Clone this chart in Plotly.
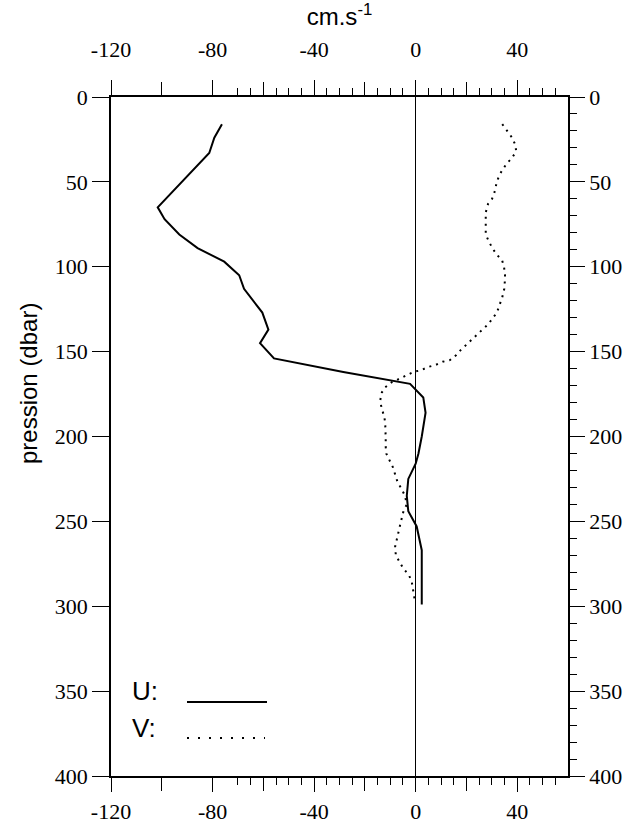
import plotly.graph_objects as go

# U component (solid), cm/s vs pressure (dbar)
u_pres = [16, 24, 33, 65, 72, 81, 89, 97, 105, 113, 127, 137, 145, 154, 162, 169, 177, 186, 200, 210, 216, 225, 235, 244, 253, 267, 286, 299]
u_vel = [-76.3, -79.3, -81.3, -101.6, -98.9, -93.1, -85.9, -75.4, -69.5, -67.6, -60.4, -58.0, -61.3, -55.8, -28.5, -2.2, 3.0, 3.9, 2.4, 1.1, 0.0, -2.9, -3.5, -2.9, 0.4, 2.4, 2.4, 2.4]

# V component (dotted)
v_pres = [16, 20, 24, 28, 32, 36, 39, 43, 47, 51, 55, 60, 63, 68, 72, 76, 81, 85, 89, 93, 96, 100, 105, 109, 113, 118, 122, 127, 130, 134, 137, 140, 143, 146, 149, 152, 155, 156, 158, 159, 161, 162, 164, 166, 168, 171, 174, 179, 184, 188, 192, 197, 201, 206, 210, 218, 223, 227, 231, 235, 240, 244, 252, 261, 265, 270, 274, 278, 281, 285, 298]
v_vel = [34.1, 36.1, 38.0, 39.2, 39.6, 37.9, 36.0, 34.1, 32.7, 31.8, 31.3, 30.1, 28.5, 27.6, 27.6, 27.6, 27.6, 28.8, 30.2, 32.0, 34.0, 34.8, 35.2, 35.1, 34.9, 34.1, 33.3, 32.0, 30.5, 28.5, 26.3, 24.1, 22.0, 19.8, 17.8, 16.0, 13.5, 10.6, 7.6, 5.0, 2.0, -0.9, -3.5, -6.4, -9.4, -12.0, -13.3, -14.0, -13.3, -12.4, -12.0, -11.8, -11.8, -11.8, -11.6, -9.0, -8.1, -7.1, -5.5, -4.2, -3.5, -4.8, -6.1, -7.5, -8.1, -7.8, -6.4, -4.8, -2.9, -1.6, -0.2]

x_range = [-120, 60]
y_range = [400, 0]
x_labeled = [-120, -80, -40, 0, 40]
x_labels = ["-120", "-80", "-40", "0", "40"]
x_unlabeled = [-100, -60, -20, 20]
x_minor = [v for v in range(-70, 60, 5) if v % 20 != 0]
y_major = [0, 50, 100, 150, 200, 250, 300, 350, 400]
y_minor = [v for v in range(10, 400, 10) if v % 50 != 0]

serif = "Liberation Serif, Times New Roman, serif"
sans = "Liberation Sans, Arial, sans-serif"

# plot area in pixels
L, R, T, B = 111, 568, 97, 776
W, H = R - L, B - T


def px(x):
    return (x - L) / W


def py(y):
    return 1 - (y - T) / H


fig = go.Figure()
fig.add_trace(go.Scatter(x=u_vel, y=u_pres, mode="lines", line=dict(color="black", width=2),
                         showlegend=False, hoverinfo="skip", xaxis="x", yaxis="y"))
fig.add_trace(go.Scatter(x=v_vel, y=v_pres, mode="lines", line=dict(color="black", width=2, dash="2px,5px"),
                         showlegend=False, hoverinfo="skip", xaxis="x", yaxis="y"))
# invisible traces to activate the mirrored / extra tick axes
for xa, ya in [("x2", "y"), ("x", "y2"), ("x3", "y"), ("x4", "y")]:
    fig.add_trace(go.Scatter(x=u_vel, y=u_pres, mode="lines", opacity=0, showlegend=False,
                             hoverinfo="skip", xaxis=xa, yaxis=ya))

common_x = dict(range=x_range, tickmode="array", tickvals=x_labeled, ticktext=x_labels,
                ticks="outside", tickwidth=1.3, tickcolor="black",
                showline=True, linecolor="black", linewidth=1.5, showgrid=False, automargin=False,
                tickfont=dict(family=serif, size=22, color="black"),
                minor=dict(tickmode="array", tickvals=x_minor, ticks="outside", ticklen=7,
                           tickwidth=1, tickcolor="black", showgrid=False))

extra_x = dict(range=x_range, tickmode="array", tickvals=x_unlabeled, ticks="outside", ticklen=14,
               tickwidth=1.3, tickcolor="black", showticklabels=False, showline=False,
               showgrid=False, zeroline=False, automargin=False, overlaying="x")

fig.update_layout(
    width=630, height=824,
    margin=dict(l=L, r=630 - R, t=T, b=824 - B),
    paper_bgcolor="white", plot_bgcolor="white",
    xaxis=dict(**common_x, side="bottom", zeroline=True, zerolinecolor="black", zerolinewidth=1.3,
               ticklen=14, ticklabelstandoff=1),
    xaxis2=dict(**common_x, side="top", overlaying="x", zeroline=False, ticklen=15, ticklabelstandoff=14,
                title=dict(text="cm.s<sup>-1</sup>", font=dict(family=sans, size=24, color="black"), standoff=6)),
    xaxis3=dict(**extra_x, side="bottom"),
    xaxis4=dict(**extra_x, side="top"),
    yaxis=dict(range=y_range, tickmode="array", tickvals=y_major, ticks="outside", ticklen=17,
               tickwidth=1.3, tickcolor="black", showline=True, linecolor="black", linewidth=1.5,
               showgrid=False, zeroline=False, automargin=False,
               tickfont=dict(family=serif, size=22, color="black")),
    yaxis2=dict(range=y_range, tickmode="array", tickvals=y_major, ticks="outside", ticklen=15,
                tickwidth=1.3, tickcolor="black", showline=True, linecolor="black", linewidth=1.5,
                showgrid=False, zeroline=False, side="right", overlaying="y", automargin=False,
                tickfont=dict(family=serif, size=22, color="black"),
                minor=dict(tickmode="array", tickvals=y_minor, ticks="outside", ticklen=7,
                           tickwidth=1, tickcolor="black", showgrid=False)),
    annotations=[
        dict(text="pression (dbar)", textangle=-90, x=px(28), y=py(384), xref="paper", yref="paper",
             xanchor="center", yanchor="middle",
             showarrow=False, font=dict(family=sans, size=24, color="black")),
        dict(text="U:", x=px(130), y=py(691), xref="paper", yref="paper", xanchor="left", yanchor="middle",
             showarrow=False, font=dict(family=sans, size=26, color="black")),
        dict(text="V:", x=px(130), y=py(728), xref="paper", yref="paper", xanchor="left", yanchor="middle",
             showarrow=False, font=dict(family=sans, size=26, color="black")),
    ],
)

fig.add_shape(type="line", xref="paper", yref="paper", x0=px(187), x1=px(267),
              y0=py(702), y1=py(702), line=dict(color="black", width=1.8))
fig.add_shape(type="line", xref="paper", yref="paper", x0=px(187), x1=px(265),
              y0=py(738), y1=py(738), line=dict(color="black", width=2, dash="2px,9px"))

fig.write_html("out.html")
